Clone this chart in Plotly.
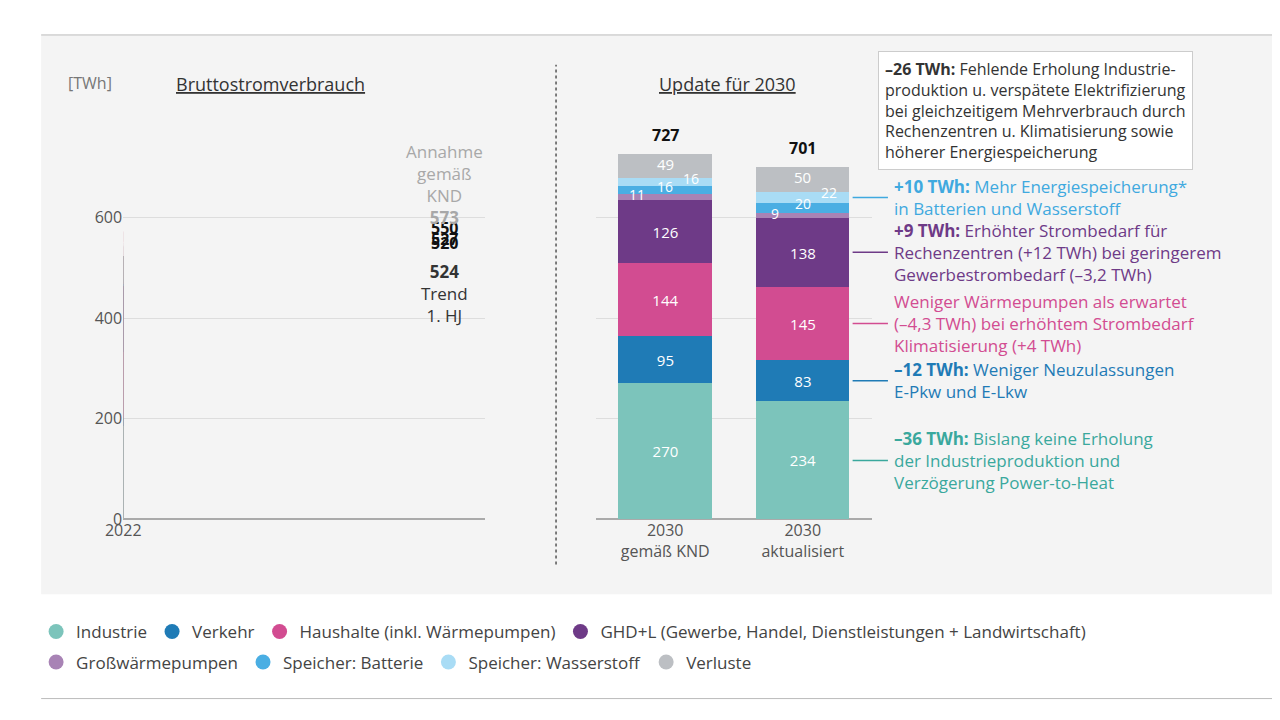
import plotly.graph_objects as go

# Daten (TWh)
jahre = ['2022', '2023', '2024', '2025']
industrie_h = [202, 186, 186, None]
verkehr_h = [14, 16, 18, None]
haushalte_h = [133, 131, 133, None]
ghd_h = [137, 130, 134, None]
batterie_h = [5, 5, 6, None]
verluste_h = [59, 52, 50, None]
trend_2025 = 524
knd_2025 = 573
summen_h = [550, 520, 527]

szen = ['2030<br>gemäß KND', '2030<br>aktualisiert']
industrie_s = [270, 234]
verkehr_s = [95, 83]
haushalte_s = [144, 145]
ghd_s = [126, 138]
gwp_s = [11, 9]
batterie_s = [16, 20]
wasserstoff_s = [16, 22]
verluste_s = [49, 50]
summen_s = [727, 701]

farben = {
    'Industrie': '#7cc4bb', 'Verkehr': '#1f7bb6', 'Haushalte (inkl. Wärmepumpen)': '#d24c91',
    'GHD+L (Gewerbe, Handel, Dienstleistungen + Landwirtschaft)': '#6e3a87',
    'Großwärmepumpen': '#a883b5', 'Speicher: Batterie': '#4aaee3',
    'Speicher: Wasserstoff': '#a9dcf5', 'Verluste': '#bcbfc3',
}
namen = list(farben)
FONT = 'Open Sans'

fig = go.Figure()

hist = [industrie_h, verkehr_h, haushalte_h, ghd_h, [None]*4, batterie_h, [None]*4, verluste_h]
for n, vals in zip(namen, hist):
    fig.add_trace(go.Bar(x=jahre, y=vals, marker_color=farben[n], marker_line_width=0,
                         width=0.8, showlegend=False, hoverinfo='skip', xaxis='x', yaxis='y'))
fig.add_trace(go.Bar(x=['2025'], y=[trend_2025], marker_color='#b6aeb2', width=0.8,
                     marker_line_width=0, showlegend=False, xaxis='x', yaxis='y'))
fig.add_trace(go.Bar(x=['2025'], y=[knd_2025 - trend_2025], width=0.8, marker_line_width=0,
                     marker=dict(color='#ecdfe2', pattern=dict(shape='/', fgcolor='#ffffff', size=10, solidity=0.25)),
                     showlegend=False, xaxis='x', yaxis='y'))

szen_vals = [industrie_s, verkehr_s, haushalte_s, ghd_s, gwp_s, batterie_s, wasserstoff_s, verluste_s]
for i, (n, vals) in enumerate(zip(namen, szen_vals)):
    big = i < 4
    fig.add_trace(go.Bar(x=szen, y=vals, marker_color=farben[n], marker_line_width=0, width=0.68,
                         text=vals if big else None, textposition='inside', insidetextanchor='middle',
                         textfont=dict(color='white', size=15, family=FONT),
                         showlegend=False, xaxis='x2', yaxis='y2'))

for i, n in enumerate(namen):
    fig.add_trace(go.Scatter(x=[None], y=[None], mode='markers', name=n,
                             legend='legend' if i < 4 else 'legend2',
                             marker=dict(size=15, color=farben[n], symbol='circle')))

ann = []
for j, s in zip(jahre, summen_h):
    ann.append(dict(x=j, y=s, xref='x', yref='y', text=f'<b>{s}</b>', showarrow=False,
                    yanchor='bottom', yshift=2, font=dict(size=16, color='#111')))
ann.append(dict(x='2025', y=knd_2025, xref='x', yref='y', yanchor='bottom', yshift=0, showarrow=False,
                text='Annahme<br>gemäß<br>KND<br><b>573</b>', font=dict(size=17, color='#a8a8a8')))
ann.append(dict(x='2025', y=trend_2025, xref='x', yref='y', yanchor='top', yshift=-2, showarrow=False,
                text='<b>524</b><br>Trend<br>1. HJ', font=dict(size=17, color='#333')))
for k, s in enumerate(summen_s):
    ann.append(dict(x=szen[k], y=s, xref='x2', yref='y2', text=f'<b>{s}</b>', showarrow=False,
                    yanchor='bottom', yshift=6, font=dict(size=16, color='#111')))
    base = industrie_s[k] + verkehr_s[k] + haushalte_s[k] + ghd_s[k]
    ann.append(dict(x=szen[k], y=base + gwp_s[k], xref='x2', yref='y2', text=str(gwp_s[k]),
                    showarrow=False, xshift=-28, font=dict(size=14, color='white')))
    ann.append(dict(x=szen[k], y=base + gwp_s[k] + batterie_s[k], xref='x2', yref='y2', text=str(batterie_s[k]),
                    showarrow=False, xshift=0, font=dict(size=14, color='white')))
    ann.append(dict(x=szen[k], y=base + gwp_s[k] + batterie_s[k] + wasserstoff_s[k], xref='x2', yref='y2',
                    text=str(wasserstoff_s[k]), showarrow=False, xshift=26, font=dict(size=14, color='white')))
    ann.append(dict(x=szen[k], y=summen_s[k] - verluste_s[k] / 2 + 5, xref='x2', yref='y2', text=str(verluste_s[k]),
                    showarrow=False, font=dict(size=15, color='white')))

ann += [
    dict(x=0.032, y=0.913, xref='paper', yref='paper', text='[TWh]', showarrow=False, xanchor='left',
         font=dict(size=16, color='#777')),
    dict(x=0.117, y=0.913, xref='paper', yref='paper', text='<u>Bruttostromverbrauch</u>', showarrow=False,
         xanchor='left', font=dict(size=18, color='#333')),
    dict(x=0.5, y=0.913, xref='paper', yref='paper', text='<u>Update für 2030</u>', showarrow=False,
         xanchor='left', font=dict(size=18, color='#333')),
    dict(x=0.675, y=0.94, xref='paper', yref='paper', xanchor='left', yanchor='top', align='left',
         showarrow=False, bgcolor='white', bordercolor='#cccccc', borderwidth=1, borderpad=6,
         text='<b>–26 TWh:</b> Fehlende Erholung Industrie-<br>produktion u. verspätete Elektrifizierung<br>'
              'bei gleichzeitigem Mehrverbrauch durch<br>Rechenzentren u. Klimatisierung sowie<br>höherer Energiespeicherung',
         font=dict(size=16, color='#333')),
]

# Erläuterungen rechts, auf Höhe der Segmentmitte des aktualisierten Balkens
cum = 0
mids = []
for vals in [industrie_s, verkehr_s, haushalte_s, ghd_s]:
    mids.append(cum + vals[1] / 2)
    cum += vals[1]
mids.append(cum + gwp_s[1] + batterie_s[1] + wasserstoff_s[1] / 2)
texte = [
    ('<b>–36 TWh:</b> Bislang keine Erholung<br>der Industrieproduktion und<br>Verzögerung Power-to-Heat', '#3aa89d'),
    ('<b>–12 TWh:</b> Weniger Neuzulassungen<br>E-Pkw und E-Lkw', '#1f7bb6'),
    ('Weniger Wärmepumpen als erwartet<br>(–4,3 TWh) bei erhöhtem Strombedarf<br>Klimatisierung (+4 TWh)', '#d24c91'),
    ('<b>+9 TWh:</b> Erhöhter Strombedarf für<br>Rechenzentren (+12 TWh) bei geringerem<br>Gewerbestrombedarf (–3,2 TWh)', '#6e3a87'),
    ('<b>+10 TWh:</b> Mehr Energiespeicherung*<br>in Batterien und Wasserstoff', '#3fa9df'),
]
shapes = []
for (t, c), m in zip(texte, mids):
    ann.append(dict(x=0.686, y=m, xref='paper', yref='y2', text=t, align='left', xanchor='left',
                    showarrow=False, font=dict(size=17, color=c)))
    shapes.append(dict(type='line', xref='paper', yref='y2', x0=0.655, x1=0.683, y0=m, y1=m,
                       line=dict(color=c, width=1.5)))

shapes += [
    dict(type='rect', xref='paper', yref='paper', x0=0.012, x1=0.988, y0=0.173, y1=0.962,
         fillcolor='#f4f4f4', line_width=0, layer='below'),
    dict(type='line', xref='paper', yref='paper', x0=0.012, x1=0.988, y0=0.962, y1=0.962,
         line=dict(color='#bbbbbb', width=1)),
    dict(type='line', xref='paper', yref='paper', x0=0.012, x1=0.988, y0=0.026, y1=0.026,
         line=dict(color='#bbbbbb', width=1)),
    dict(type='line', xref='paper', yref='paper', x0=0.42, x1=0.42, y0=0.215, y1=0.92,
         line=dict(color='#555', width=1.5, dash='dot')),
]

ax = dict(showgrid=True, gridcolor='#dddddd', zeroline=True, zerolinecolor='#aaaaaa', range=[0, 800],
          domain=[0.279, 0.846], showline=False, tickvals=[0, 200, 400, 600],
          tickfont=dict(size=16, color='#555'))
leg = dict(orientation='h', x=0.008, yanchor='middle', font=dict(size=17, color='#444'),
           traceorder='normal', bgcolor='rgba(0,0,0,0)')
fig.update_layout(
    width=1280, height=720, margin=dict(l=0, r=0, t=0, b=0),
    paper_bgcolor='white', plot_bgcolor='rgba(0,0,0,0)', barmode='stack', bargap=0,
    font=dict(family=FONT, color='#333'),
    xaxis=dict(type='category', domain=[0.077, 0.364], tickfont=dict(size=16, color='#555'), showgrid=False),
    xaxis2=dict(type='category', domain=[0.452, 0.670], tickfont=dict(size=16, color='#555'),
                showgrid=False, anchor='y2'),
    yaxis=dict(**ax),
    yaxis2=dict(**{**ax, 'showticklabels': False}, anchor='x2'),
    legend=dict(**leg, y=0.12),
    legend2=dict(**leg, y=0.077),
    annotations=ann, shapes=shapes,
)
fig.write_html('out.html')
